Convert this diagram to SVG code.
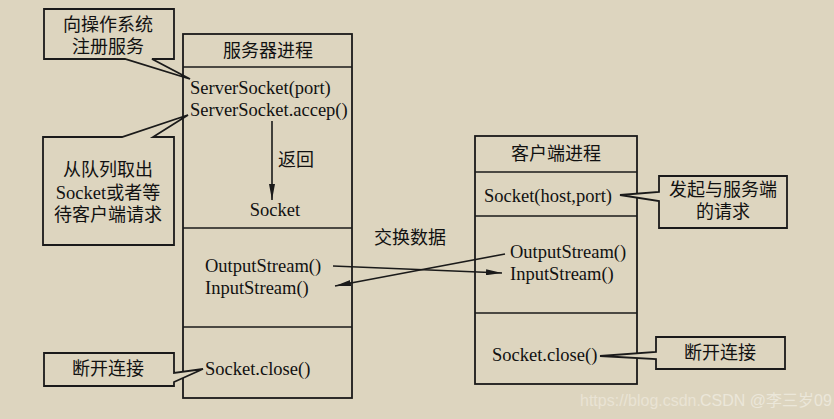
<svg xmlns="http://www.w3.org/2000/svg" width="834" height="419" viewBox="0 0 834 419">
<style>
.box{fill:none;stroke:#1a1a1a;stroke-width:1.8}
.ln{fill:none;stroke:#1a1a1a;stroke-width:1.6}
.co{fill:#ddd5bf;stroke:#1a1a1a;stroke-width:1.8;stroke-linejoin:miter}
.t{font-family:"Liberation Serif","Noto Sans CJK SC",serif;font-size:18.5px;fill:#111}
.c{font-family:"Liberation Serif","Noto Sans CJK SC",serif;font-size:18px;fill:#111}
.cm{text-anchor:middle}
</style>
<defs>
<marker id="ah" viewBox="0 0 16 6" refX="16" refY="3" markerWidth="16" markerHeight="6" markerUnits="userSpaceOnUse" orient="auto">
<path d="M0,0 L16,3 L0,6 Z" fill="#1a1a1a"/>
</marker>
</defs>
<rect width="834" height="419" fill="#ddd5bf"/>

<g id="server">
<rect class="box" x="183" y="34" width="169" height="364"/>
<line class="ln" x1="183" y1="67" x2="352" y2="67"/>
<line class="ln" x1="183" y1="228" x2="352" y2="228"/>
<line class="ln" x1="183" y1="327" x2="352" y2="327"/>
<text class="c cm" x="268" y="57">服务器进程</text>
<text class="t" x="190" y="94">ServerSocket(port)</text>
<text class="t" x="190" y="116">ServerSocket.accep()</text>
<text class="c" x="278" y="166">返回</text>
<text class="t cm" x="275" y="216">Socket</text>
<text class="t" x="205" y="272">OutputStream()</text>
<text class="t" x="205" y="294">InputStream()</text>
<text class="t" x="205" y="375">Socket.close()</text>
</g>

<g id="client">
<rect class="box" x="475" y="136" width="162" height="248"/>
<line class="ln" x1="475" y1="172" x2="637" y2="172"/>
<line class="ln" x1="475" y1="216" x2="637" y2="216"/>
<line class="ln" x1="475" y1="313" x2="637" y2="313"/>
<text class="c cm" x="556" y="160">客户端进程</text>
<text class="t" x="484" y="202">Socket(host,port)</text>
<text class="t" x="510" y="258">OutputStream()</text>
<text class="t" x="510" y="280">InputStream()</text>
<text class="t" x="492" y="361">Socket.close()</text>
</g>

<g id="note-register">
<path class="co" d="M44,9 H174 V59 H152 L190,79 L125,59 H44 Z"/>
<text class="c cm" x="108" y="31">向操作系统</text>
<text class="c cm" x="108" y="53">注册服务</text>
</g>

<g id="note-accept">
<path class="co" d="M43,137 H122 L188,115 L153,137 H174 V245 H43 Z"/>
<text class="c cm" x="108" y="176">从队列取出</text>
<text class="c cm" x="108" y="199"><tspan font-size="18.5">Socket</tspan>或者等</text>
<text class="c cm" x="108" y="221">待客户端请求</text>
</g>

<g id="note-close-left">
<path class="co" d="M44,353 H174 V373 L203,369 L174,382 V386 H44 Z"/>
<text class="c cm" x="108" y="375">断开连接</text>
</g>

<g id="note-request">
<path class="co" d="M659,176 H787 V228 H659 V201 L620,195 L659,192 Z"/>
<text class="c cm" x="723" y="196">发起与服务端</text>
<text class="c cm" x="723" y="218">的请求</text>
</g>

<g id="note-close-right">
<path class="co" d="M656,337 H785 V369 H656 V359 L600,356 L656,352 Z"/>
<text class="c cm" x="720" y="359">断开连接</text>
</g>

<g id="connectors">
<line class="ln" x1="272" y1="121" x2="272" y2="200" marker-end="url(#ah)"/>
<line class="ln" x1="333" y1="266" x2="502" y2="273" marker-end="url(#ah)"/>
<line class="ln" x1="505" y1="254" x2="335" y2="286" marker-end="url(#ah)"/>
</g>

<text class="c" x="374" y="244">交换数据</text>

<g id="watermark" opacity="0.55">
<text x="580" y="406" font-family="Liberation Sans, sans-serif" font-size="16" fill="#f4f0e6">https://blog.csdn.</text>
<text x="700" y="406" font-family="Liberation Sans, 'Noto Sans CJK SC', sans-serif" font-size="16" fill="#f8f6f0">CSDN @李三岁09</text>
</g>
</svg>
